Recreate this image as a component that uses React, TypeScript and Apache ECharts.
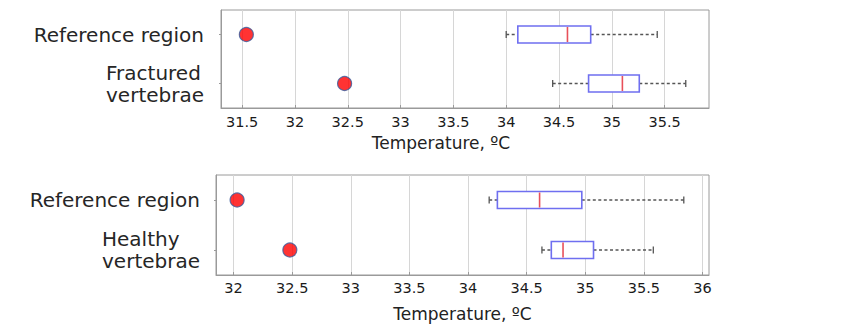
import React, { useEffect, useRef } from "react";
import * as echarts from "echarts";

const categoriesTop = ["Reference region", "Fractured\nvertebrae"];
const categoriesBottom = ["Reference region", "Healthy\nvertebrae"];
const pointsTop = [31.54, 32.47];
const pointsBottom = [32.03, 32.48];
// [min, q1, median, q3, max]
const boxTop = [
  [34.0, 34.11, 34.58, 34.8, 35.43],
  [34.44, 34.78, 35.1, 35.26, 35.7],
];
const boxBottom = [
  [34.18, 34.25, 34.61, 34.97, 35.84],
  [34.63, 34.71, 34.81, 35.07, 35.58],
];
const ticksTop = [31.5, 32, 32.5, 33, 33.5, 34, 34.5, 35, 35.5];
const ticksBottom = [32, 32.5, 33, 33.5, 34, 34.5, 35, 35.5, 36];
const axisName = "Temperature, ºC";

const FONT = "DejaVu Sans";

function renderBox(params: any, api: any) {
  const cat = api.value(0);
  const vmin = api.coord([api.value(1), cat]);
  const q1 = api.coord([api.value(2), cat]);
  const med = api.coord([api.value(3), cat]);
  const q3 = api.coord([api.value(4), cat]);
  const vmax = api.coord([api.value(5), cat]);
  const y = q1[1];
  const h = 17;
  const whisker = { stroke: "#555", lineWidth: 1.3, lineDash: [3, 2.5] };
  const cap = { stroke: "#555", lineWidth: 1.3 };
  return {
    type: "group",
    children: [
      { type: "line", shape: { x1: vmin[0], y1: y, x2: q1[0], y2: y }, style: whisker },
      { type: "line", shape: { x1: q3[0], y1: y, x2: vmax[0], y2: y }, style: whisker },
      { type: "line", shape: { x1: vmin[0], y1: y - 3.5, x2: vmin[0], y2: y + 3.5 }, style: cap },
      { type: "line", shape: { x1: vmax[0], y1: y - 3.5, x2: vmax[0], y2: y + 3.5 }, style: cap },
      {
        type: "rect",
        shape: { x: q1[0], y: y - h / 2, width: q3[0] - q1[0], height: h },
        style: { fill: "#ffffff", stroke: "#6f6ff0", lineWidth: 1.6 },
      },
      {
        type: "line",
        shape: { x1: med[0], y1: y - h / 2 + 1, x2: med[0], y2: y + h / 2 - 1 },
        style: { stroke: "#e8505a", lineWidth: 1.6 },
      },
    ],
  };
}

function xAxisCfg(gridIndex: number, min: number, max: number, ticks: number[], nameGap: number, namePad: number[], labelMargin: number) {
  return {
    type: "value",
    gridIndex,
    min,
    max,
    name: axisName,
    nameLocation: "middle",
    nameGap,
    nameTextStyle: { fontFamily: FONT, fontSize: 17, color: "#222", padding: namePad },
    axisLine: { show: true, lineStyle: { color: "#9a9a9a", width: 1 } },
    axisTick: { show: true, inside: true, length: 3, customValues: ticks, lineStyle: { color: "#9a9a9a" } },
    axisLabel: {
      customValues: ticks,
      fontFamily: FONT,
      fontSize: 14.5,
      color: "#1a1a1a",
      margin: labelMargin,
      formatter: (v: number) => String(v),
    },
    splitLine: { show: true, lineStyle: { color: "#d6d6d6", width: 1 } },
  };
}

function yAxisCfg(gridIndex: number, data: string[], margin: number) {
  return {
    type: "category",
    gridIndex,
    data,
    inverse: true,
    axisLine: { show: true, lineStyle: { color: "#9a9a9a" } },
    axisTick: { show: true, length: 2, alignWithLabel: true, lineStyle: { color: "#9a9a9a" } },
    axisLabel: {
      margin,
      formatter: (v: string) =>
        v
          .split("\n")
          .map((line) => "{l|" + line + "}")
          .join("\n"),
      rich: {
        l: {
          fontFamily: FONT,
          fontSize: 20,
          lineHeight: 22,
          color: "#262626",
          align: "left",
        },
      },
    },
    splitLine: { show: false },
  };
}

export default function App() {
  const ref = useRef<HTMLDivElement>(null);
  useEffect(() => {
    if (!ref.current) return;
    const chart = echarts.init(ref.current, null, { renderer: "svg" });
    chart.setOption({
      animation: false,
      backgroundColor: "#ffffff",
      grid: [
        { left: 221, right: 150, top: 10, height: 98, show: true, borderColor: "#9a9a9a", borderWidth: 1 },
        { left: 216, right: 150, top: 175, height: 100, show: true, borderColor: "#9a9a9a", borderWidth: 1 },
      ],
      xAxis: [
        xAxisCfg(0, 31.3, 35.92, ticksTop, 26, [0, 48, 0, 0], 6),
        xAxisCfg(1, 31.85, 36.055, ticksBottom, 30, [0, 0, 0, 0], 5),
      ],
      yAxis: [yAxisCfg(0, categoriesTop, 17), yAxisCfg(1, categoriesBottom, 16)],
      series: [
        {
          type: "custom",
          xAxisIndex: 0,
          yAxisIndex: 0,
          renderItem: renderBox,
          encode: { x: [1, 2, 3, 4, 5], y: 0 },
          data: boxTop.map((b, i) => [i, ...b]),
          z: 3,
        },
        {
          type: "custom",
          xAxisIndex: 1,
          yAxisIndex: 1,
          renderItem: renderBox,
          encode: { x: [1, 2, 3, 4, 5], y: 0 },
          data: boxBottom.map((b, i) => [i, ...b]),
          z: 3,
        },
        {
          type: "scatter",
          xAxisIndex: 0,
          yAxisIndex: 0,
          symbolSize: 14,
          itemStyle: { color: "#ff0000", borderColor: "#3a5a9a", borderWidth: 1.2 },
          data: pointsTop.map((v, i) => [v, i]),
          z: 4,
        },
        {
          type: "scatter",
          xAxisIndex: 1,
          yAxisIndex: 1,
          symbolSize: 14,
          itemStyle: { color: "#ff0000", borderColor: "#3a5a9a", borderWidth: 1.2 },
          data: pointsBottom.map((v, i) => [v, i]),
          z: 4,
        },
      ],
    });
    return () => chart.dispose();
  }, []);
  return (
    <div
      ref={ref}
      style={{ position: "fixed", left: 0, top: 0, width: 859, height: 330 }}
    />
  );
}
